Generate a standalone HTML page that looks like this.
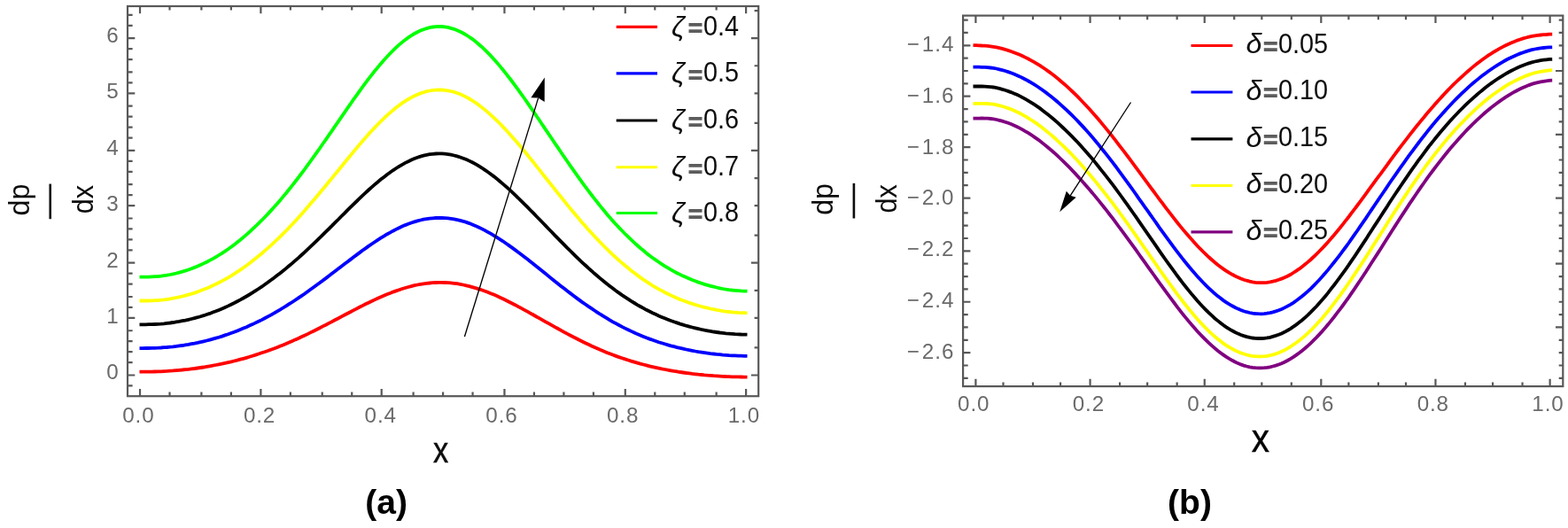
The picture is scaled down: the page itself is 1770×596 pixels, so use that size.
<!DOCTYPE html>
<html lang="en"><head><meta charset="utf-8"><title>Pressure gradient plots</title>
<style>
html,body{margin:0;padding:0;background:#fff;}
body{width:1770px;height:596px;overflow:hidden;}
svg{display:block;}
text{font-family:"Liberation Sans","DejaVu Sans",sans-serif;}
.sym{font-style:italic;}
.eq{fill:#5c5c5c;font-family:"DejaVu Sans",sans-serif;font-size:26px;font-weight:bold;}
.cap{font-size:39px;font-weight:bold;fill:#000;}
</style></head>
<body>
<svg width="1770" height="596" viewBox="0 0 1770 596">
<defs><filter id="soft" x="0" y="0" width="1770" height="596" filterUnits="userSpaceOnUse"><feGaussianBlur stdDeviation="0.6"/></filter></defs>
<rect width="1770" height="596" fill="#fff"/>
<g filter="url(#soft)">
<g class="frame" fill="none" stroke="#585858" stroke-width="2.2">
<rect x="144" y="7" width="712.2" height="440.2"/>
<path d="M158.02,447.2 v-8.3 M158.02,7 v8.3 M191.51,447.2 v-4.6 M191.51,7 v4.6 M227.39,447.2 v-4.6 M227.39,7 v4.6 M260.88,447.2 v-4.6 M260.88,7 v4.6 M294.37,447.2 v-8.3 M294.37,7 v8.3 M327.85,447.2 v-4.6 M327.85,7 v4.6 M363.73,447.2 v-4.6 M363.73,7 v4.6 M397.22,447.2 v-4.6 M397.22,7 v4.6 M430.71,447.2 v-8.3 M430.71,7 v8.3 M466.59,447.2 v-4.6 M466.59,7 v4.6 M500.08,447.2 v-4.6 M500.08,7 v4.6 M533.57,447.2 v-4.6 M533.57,7 v4.6 M569.45,447.2 v-8.3 M569.45,7 v8.3 M602.93,447.2 v-4.6 M602.93,7 v4.6 M636.42,447.2 v-4.6 M636.42,7 v4.6 M669.91,447.2 v-4.6 M669.91,7 v4.6 M705.79,447.2 v-8.3 M705.79,7 v8.3 M739.28,447.2 v-4.6 M739.28,7 v4.6 M772.77,447.2 v-4.6 M772.77,7 v4.6 M808.65,447.2 v-4.6 M808.65,7 v4.6 M842.13,447.2 v-8.3 M842.13,7 v8.3 M144,435.44 h5.6 M144,423.48 h8.3 M144,409.13 h5.6 M144,397.17 h5.6 M144,385.21 h5.6 M144,373.25 h5.6 M144,358.9 h8.3 M144,346.94 h5.6 M144,334.98 h5.6 M144,320.63 h5.6 M144,308.67 h5.6 M144,296.71 h8.3 M144,282.36 h5.6 M144,270.4 h5.6 M144,258.44 h5.6 M144,246.48 h5.6 M144,232.12 h8.3 M144,220.16 h5.6 M144,208.2 h5.6 M144,193.85 h5.6 M144,181.89 h5.6 M144,169.93 h8.3 M144,155.58 h5.6 M144,143.62 h5.6 M144,131.66 h5.6 M144,119.7 h5.6 M144,105.35 h8.3 M144,93.39 h5.6 M144,81.43 h5.6 M144,67.08 h5.6 M144,55.12 h5.6 M144,43.16 h8.3 M144,28.8 h5.6 M144,16.84 h5.6 M856.2,423.48 h-8.3 M856.2,392.39 h-4.6 M856.2,358.9 h-4.6 M856.2,327.8 h-4.6 M856.2,296.71 h-8.3 M856.2,265.61 h-4.6 M856.2,232.12 h-4.6 M856.2,201.03 h-4.6 M856.2,169.93 h-8.3 M856.2,138.84 h-4.6 M856.2,105.35 h-4.6 M856.2,74.25 h-4.6 M856.2,43.16 h-8.3 M856.2,12.06 h-4.6"/>
</g>
<g fill="none" stroke-width="3.8" stroke-linecap="butt">
<path stroke="#ff0000" d="M157.5,419.7 L160.9,419.7 L164.4,419.7 L167.8,419.6 L171.3,419.6 L174.7,419.5 L178.2,419.4 L181.6,419.3 L185.1,419.1 L188.5,418.9 L192.0,418.6 L195.4,418.4 L198.9,418.1 L202.3,417.8 L205.8,417.5 L209.2,417.1 L212.7,416.8 L216.1,416.4 L219.6,416.0 L223.0,415.5 L226.4,415.0 L229.9,414.5 L233.3,413.9 L236.8,413.3 L240.2,412.7 L243.7,412.0 L247.1,411.3 L250.6,410.6 L254.0,409.9 L257.5,409.1 L260.9,408.4 L264.4,407.5 L267.8,406.7 L271.3,405.7 L274.7,404.8 L278.2,403.8 L281.6,402.8 L285.0,401.7 L288.5,400.6 L291.9,399.5 L295.4,398.3 L298.8,397.2 L302.3,396.0 L305.7,394.7 L309.2,393.5 L312.6,392.2 L316.1,390.8 L319.5,389.4 L323.0,387.9 L326.4,386.5 L329.9,385.0 L333.3,383.4 L336.8,381.9 L340.2,380.3 L343.7,378.7 L347.1,377.1 L350.5,375.4 L354.0,373.7 L357.4,372.0 L360.9,370.2 L364.3,368.4 L367.8,366.7 L371.2,364.9 L374.7,363.1 L378.1,361.3 L381.6,359.5 L385.0,357.6 L388.5,355.8 L391.9,354.0 L395.4,352.2 L398.8,350.4 L402.3,348.6 L405.7,346.8 L409.1,345.1 L412.6,343.3 L416.0,341.7 L419.5,340.0 L422.9,338.4 L426.4,336.8 L429.8,335.3 L433.3,333.8 L436.7,332.3 L440.2,331.0 L443.6,329.6 L447.1,328.4 L450.5,327.2 L454.0,326.0 L457.4,325.0 L460.9,324.0 L464.3,323.1 L467.8,322.2 L471.2,321.5 L474.6,320.9 L478.1,320.3 L481.5,319.9 L485.0,319.5 L488.4,319.2 L491.9,319.0 L495.3,318.9 L498.8,318.9 L502.2,319.0 L505.7,319.1 L509.1,319.4 L512.6,319.8 L516.0,320.2 L519.5,320.8 L522.9,321.5 L526.4,322.3 L529.8,323.1 L533.2,324.1 L536.7,325.1 L540.1,326.1 L543.6,327.3 L547.0,328.5 L550.5,329.8 L553.9,331.2 L557.4,332.6 L560.8,334.1 L564.3,335.7 L567.7,337.3 L571.2,339.0 L574.6,340.7 L578.1,342.5 L581.5,344.2 L585.0,346.1 L588.4,347.9 L591.9,349.8 L595.3,351.7 L598.7,353.6 L602.2,355.5 L605.6,357.5 L609.1,359.4 L612.5,361.3 L616.0,363.3 L619.4,365.2 L622.9,367.2 L626.3,369.1 L629.8,371.0 L633.2,372.9 L636.7,374.8 L640.1,376.7 L643.6,378.5 L647.0,380.3 L650.5,382.0 L653.9,383.8 L657.3,385.5 L660.8,387.2 L664.2,388.8 L667.7,390.5 L671.1,392.0 L674.6,393.6 L678.0,395.1 L681.5,396.5 L684.9,397.9 L688.4,399.3 L691.8,400.6 L695.3,401.9 L698.7,403.1 L702.2,404.3 L705.6,405.4 L709.1,406.5 L712.5,407.6 L716.0,408.6 L719.4,409.6 L722.8,410.6 L726.3,411.5 L729.7,412.4 L733.2,413.3 L736.6,414.1 L740.1,414.9 L743.5,415.6 L747.0,416.4 L750.4,417.0 L753.9,417.7 L757.3,418.3 L760.8,418.9 L764.2,419.4 L767.7,420.0 L771.1,420.5 L774.6,421.0 L778.0,421.4 L781.4,421.9 L784.9,422.3 L788.3,422.7 L791.8,423.0 L795.2,423.4 L798.7,423.7 L802.1,423.9 L805.6,424.2 L809.0,424.4 L812.5,424.6 L815.9,424.8 L819.4,425.0 L822.8,425.1 L826.3,425.3 L829.7,425.4 L833.2,425.4 L836.6,425.5 L840.1,425.6 L843.5,425.6"/>
<path stroke="#0000ff" d="M157.5,393.1 L160.9,393.1 L164.4,393.0 L167.8,393.0 L171.3,392.9 L174.7,392.8 L178.2,392.7 L181.6,392.5 L185.1,392.2 L188.5,392.0 L192.0,391.6 L195.4,391.3 L198.9,390.9 L202.3,390.4 L205.8,390.0 L209.2,389.4 L212.7,388.9 L216.1,388.2 L219.6,387.6 L223.0,386.9 L226.4,386.1 L229.9,385.3 L233.3,384.5 L236.8,383.6 L240.2,382.7 L243.7,381.7 L247.1,380.7 L250.6,379.6 L254.0,378.4 L257.5,377.3 L260.9,376.0 L264.4,374.8 L267.8,373.4 L271.3,372.0 L274.7,370.6 L278.2,369.2 L281.6,367.6 L285.0,366.1 L288.5,364.4 L291.9,362.8 L295.4,361.1 L298.8,359.3 L302.3,357.4 L305.7,355.6 L309.2,353.6 L312.6,351.6 L316.1,349.6 L319.5,347.5 L323.0,345.4 L326.4,343.2 L329.9,341.0 L333.3,338.7 L336.8,336.4 L340.2,334.1 L343.7,331.7 L347.1,329.2 L350.5,326.8 L354.0,324.3 L357.4,321.8 L360.9,319.3 L364.3,316.7 L367.8,314.1 L371.2,311.5 L374.7,308.8 L378.1,306.2 L381.6,303.6 L385.0,300.9 L388.5,298.3 L391.9,295.7 L395.4,293.1 L398.8,290.5 L402.3,287.9 L405.7,285.4 L409.1,282.8 L412.6,280.4 L416.0,277.9 L419.5,275.5 L422.9,273.2 L426.4,270.9 L429.8,268.7 L433.3,266.6 L436.7,264.5 L440.2,262.6 L443.6,260.7 L447.1,258.9 L450.5,257.2 L454.0,255.6 L457.4,254.1 L460.9,252.8 L464.3,251.5 L467.8,250.4 L471.2,249.4 L474.6,248.5 L478.1,247.7 L481.5,247.1 L485.0,246.6 L488.4,246.3 L491.9,246.0 L495.3,245.9 L498.8,246.0 L502.2,246.1 L505.7,246.4 L509.1,246.8 L512.6,247.4 L516.0,248.1 L519.5,248.9 L522.9,249.8 L526.4,250.9 L529.8,252.1 L533.2,253.4 L536.7,254.9 L540.1,256.5 L543.6,258.1 L547.0,259.9 L550.5,261.8 L553.9,263.7 L557.4,265.8 L560.8,267.9 L564.3,270.1 L567.7,272.3 L571.2,274.7 L574.6,277.1 L578.1,279.6 L581.5,282.1 L585.0,284.7 L588.4,287.3 L591.9,290.0 L595.3,292.6 L598.7,295.3 L602.2,298.1 L605.6,300.8 L609.1,303.6 L612.5,306.3 L616.0,309.1 L619.4,311.9 L622.9,314.7 L626.3,317.4 L629.8,320.2 L633.2,322.9 L636.7,325.6 L640.1,328.3 L643.6,330.9 L647.0,333.5 L650.5,336.1 L653.9,338.6 L657.3,341.1 L660.8,343.5 L664.2,345.9 L667.7,348.2 L671.1,350.5 L674.6,352.8 L678.0,355.0 L681.5,357.1 L684.9,359.2 L688.4,361.3 L691.8,363.3 L695.3,365.2 L698.7,367.0 L702.2,368.9 L705.6,370.6 L709.1,372.3 L712.5,373.9 L716.0,375.5 L719.4,377.1 L722.8,378.5 L726.3,379.9 L729.7,381.3 L733.2,382.6 L736.6,383.8 L740.1,385.0 L743.5,386.2 L747.0,387.3 L750.4,388.3 L753.9,389.3 L757.3,390.3 L760.8,391.2 L764.2,392.1 L767.7,392.9 L771.1,393.7 L774.6,394.5 L778.0,395.2 L781.4,395.8 L784.9,396.5 L788.3,397.1 L791.8,397.6 L795.2,398.1 L798.7,398.6 L802.1,399.1 L805.6,399.5 L809.0,399.9 L812.5,400.2 L815.9,400.6 L819.4,400.8 L822.8,401.1 L826.3,401.3 L829.7,401.4 L833.2,401.6 L836.6,401.7 L840.1,401.8 L843.5,401.8"/>
<path stroke="#000000" d="M157.5,366.3 L160.9,366.3 L164.4,366.3 L167.8,366.2 L171.3,366.2 L174.7,366.0 L178.2,365.8 L181.6,365.6 L185.1,365.3 L188.5,364.9 L192.0,364.5 L195.4,364.0 L198.9,363.4 L202.3,362.9 L205.8,362.2 L209.2,361.6 L212.7,360.8 L216.1,360.0 L219.6,359.1 L223.0,358.2 L226.4,357.2 L229.9,356.2 L233.3,355.0 L236.8,353.9 L240.2,352.6 L243.7,351.3 L247.1,349.9 L250.6,348.4 L254.0,346.9 L257.5,345.4 L260.9,343.7 L264.4,342.0 L267.8,340.2 L271.3,338.4 L274.7,336.5 L278.2,334.5 L281.6,332.5 L285.0,330.4 L288.5,328.2 L291.9,326.0 L295.4,323.7 L298.8,321.3 L302.3,318.8 L305.7,316.3 L309.2,313.7 L312.6,311.1 L316.1,308.4 L319.5,305.7 L323.0,302.9 L326.4,300.0 L329.9,297.1 L333.3,294.1 L336.8,291.1 L340.2,288.0 L343.7,284.8 L347.1,281.6 L350.5,278.4 L354.0,275.1 L357.4,271.8 L360.9,268.5 L364.3,265.1 L367.8,261.7 L371.2,258.3 L374.7,254.9 L378.1,251.4 L381.6,248.0 L385.0,244.5 L388.5,241.1 L391.9,237.6 L395.4,234.2 L398.8,230.8 L402.3,227.5 L405.7,224.2 L409.1,220.9 L412.6,217.7 L416.0,214.5 L419.5,211.4 L422.9,208.4 L426.4,205.5 L429.8,202.6 L433.3,199.9 L436.7,197.2 L440.2,194.7 L443.6,192.3 L447.1,190.0 L450.5,187.9 L454.0,185.8 L457.4,183.9 L460.9,182.2 L464.3,180.5 L467.8,179.1 L471.2,177.8 L474.6,176.6 L478.1,175.7 L481.5,174.9 L485.0,174.2 L488.4,173.8 L491.9,173.5 L495.3,173.4 L498.8,173.4 L502.2,173.7 L505.7,174.1 L509.1,174.7 L512.6,175.5 L516.0,176.4 L519.5,177.5 L522.9,178.7 L526.4,180.1 L529.8,181.6 L533.2,183.3 L536.7,185.2 L540.1,187.2 L543.6,189.3 L547.0,191.6 L550.5,194.0 L553.9,196.5 L557.4,199.1 L560.8,201.8 L564.3,204.7 L567.7,207.6 L571.2,210.6 L574.6,213.7 L578.1,216.9 L581.5,220.2 L585.0,223.5 L588.4,226.9 L591.9,230.3 L595.3,233.7 L598.7,237.2 L602.2,240.7 L605.6,244.2 L609.1,247.8 L612.5,251.3 L616.0,254.9 L619.4,258.5 L622.9,262.0 L626.3,265.6 L629.8,269.1 L633.2,272.6 L636.7,276.1 L640.1,279.6 L643.6,283.0 L647.0,286.4 L650.5,289.8 L653.9,293.1 L657.3,296.3 L660.8,299.5 L664.2,302.7 L667.7,305.7 L671.1,308.8 L674.6,311.7 L678.0,314.6 L681.5,317.5 L684.9,320.3 L688.4,323.0 L691.8,325.6 L695.3,328.2 L698.7,330.6 L702.2,333.1 L705.6,335.4 L709.1,337.7 L712.5,339.9 L716.0,342.0 L719.4,344.1 L722.8,346.0 L726.3,347.9 L729.7,349.8 L733.2,351.5 L736.6,353.2 L740.1,354.8 L743.5,356.4 L747.0,357.9 L750.4,359.3 L753.9,360.7 L757.3,362.0 L760.8,363.2 L764.2,364.4 L767.7,365.6 L771.1,366.6 L774.6,367.7 L778.0,368.6 L781.4,369.5 L784.9,370.4 L788.3,371.2 L791.8,372.0 L795.2,372.7 L798.7,373.3 L802.1,373.9 L805.6,374.5 L809.0,375.0 L812.5,375.5 L815.9,375.9 L819.4,376.3 L822.8,376.6 L826.3,376.9 L829.7,377.2 L833.2,377.3 L836.6,377.5 L840.1,377.6 L843.5,377.7"/>
<path stroke="#ffff00" d="M157.5,339.5 L160.9,339.5 L164.4,339.5 L167.8,339.5 L171.3,339.4 L174.7,339.2 L178.2,339.0 L181.6,338.7 L185.1,338.3 L188.5,337.8 L192.0,337.3 L195.4,336.7 L198.9,336.0 L202.3,335.3 L205.8,334.5 L209.2,333.7 L212.7,332.7 L216.1,331.7 L219.6,330.6 L223.0,329.4 L226.4,328.1 L229.9,326.8 L233.3,325.4 L236.8,323.9 L240.2,322.3 L243.7,320.7 L247.1,319.0 L250.6,317.2 L254.0,315.3 L257.5,313.3 L260.9,311.3 L264.4,309.1 L267.8,306.9 L271.3,304.6 L274.7,302.2 L278.2,299.8 L281.6,297.2 L285.0,294.6 L288.5,291.8 L291.9,289.1 L295.4,286.2 L298.8,283.2 L302.3,280.2 L305.7,277.1 L309.2,273.9 L312.6,270.7 L316.1,267.4 L319.5,263.9 L323.0,260.5 L326.4,256.9 L329.9,253.3 L333.3,249.6 L336.8,245.8 L340.2,242.0 L343.7,238.1 L347.1,234.1 L350.5,230.1 L354.0,226.1 L357.4,222.0 L360.9,217.8 L364.3,213.7 L367.8,209.5 L371.2,205.3 L374.7,201.1 L378.1,196.9 L381.6,192.7 L385.0,188.5 L388.5,184.2 L391.9,180.0 L395.4,175.8 L398.8,171.6 L402.3,167.5 L405.7,163.4 L409.1,159.4 L412.6,155.5 L416.0,151.6 L419.5,147.8 L422.9,144.1 L426.4,140.5 L429.8,137.0 L433.3,133.7 L436.7,130.4 L440.2,127.3 L443.6,124.4 L447.1,121.6 L450.5,118.9 L454.0,116.4 L457.4,114.1 L460.9,112.0 L464.3,110.1 L467.8,108.3 L471.2,106.7 L474.6,105.4 L478.1,104.2 L481.5,103.2 L485.0,102.5 L488.4,101.9 L491.9,101.6 L495.3,101.4 L498.8,101.5 L502.2,101.8 L505.7,102.3 L509.1,103.0 L512.6,103.9 L516.0,105.0 L519.5,106.3 L522.9,107.9 L526.4,109.6 L529.8,111.5 L533.2,113.5 L536.7,115.8 L540.1,118.3 L543.6,120.9 L547.0,123.6 L550.5,126.6 L553.9,129.6 L557.4,132.8 L560.8,136.1 L564.3,139.5 L567.7,143.1 L571.2,146.7 L574.6,150.5 L578.1,154.4 L581.5,158.3 L585.0,162.3 L588.4,166.4 L591.9,170.5 L595.3,174.7 L598.7,179.0 L602.2,183.2 L605.6,187.6 L609.1,191.9 L612.5,196.3 L616.0,200.7 L619.4,205.0 L622.9,209.4 L626.3,213.7 L629.8,218.1 L633.2,222.3 L636.7,226.6 L640.1,230.9 L643.6,235.1 L647.0,239.2 L650.5,243.3 L653.9,247.4 L657.3,251.4 L660.8,255.3 L664.2,259.2 L667.7,263.0 L671.1,266.7 L674.6,270.4 L678.0,274.0 L681.5,277.5 L684.9,281.0 L688.4,284.3 L691.8,287.6 L695.3,290.8 L698.7,293.9 L702.2,296.9 L705.6,299.8 L709.1,302.6 L712.5,305.4 L716.0,308.1 L719.4,310.6 L722.8,313.1 L726.3,315.6 L729.7,317.9 L733.2,320.1 L736.6,322.3 L740.1,324.3 L743.5,326.3 L747.0,328.2 L750.4,330.0 L753.9,331.7 L757.3,333.4 L760.8,335.0 L764.2,336.5 L767.7,337.9 L771.1,339.3 L774.6,340.5 L778.0,341.8 L781.4,342.9 L784.9,344.0 L788.3,345.0 L791.8,346.0 L795.2,346.9 L798.7,347.7 L802.1,348.5 L805.6,349.2 L809.0,349.9 L812.5,350.5 L815.9,351.1 L819.4,351.6 L822.8,352.0 L826.3,352.4 L829.7,352.6 L833.2,352.9 L836.6,353.1 L840.1,353.2 L843.5,353.3"/>
<path stroke="#00ff00" d="M157.5,312.7 L160.9,312.7 L164.4,312.6 L167.8,312.6 L171.3,312.4 L174.7,312.2 L178.2,312.0 L181.6,311.6 L185.1,311.1 L188.5,310.6 L192.0,310.0 L195.4,309.3 L198.9,308.5 L202.3,307.6 L205.8,306.6 L209.2,305.6 L212.7,304.5 L216.1,303.2 L219.6,301.9 L223.0,300.5 L226.4,299.0 L229.9,297.4 L233.3,295.7 L236.8,293.9 L240.2,292.1 L243.7,290.1 L247.1,288.0 L250.6,285.8 L254.0,283.6 L257.5,281.2 L260.9,278.8 L264.4,276.2 L267.8,273.5 L271.3,270.7 L274.7,267.9 L278.2,264.9 L281.6,261.8 L285.0,258.7 L288.5,255.5 L291.9,252.1 L295.4,248.7 L298.8,245.2 L302.3,241.6 L305.7,237.9 L309.2,234.1 L312.6,230.2 L316.1,226.2 L319.5,222.1 L323.0,218.0 L326.4,213.7 L329.9,209.4 L333.3,205.0 L336.8,200.5 L340.2,196.0 L343.7,191.4 L347.1,186.7 L350.5,182.0 L354.0,177.2 L357.4,172.4 L360.9,167.5 L364.3,162.5 L367.8,157.6 L371.2,152.6 L374.7,147.6 L378.1,142.6 L381.6,137.6 L385.0,132.6 L388.5,127.6 L391.9,122.6 L395.4,117.7 L398.8,112.7 L402.3,107.9 L405.7,103.1 L409.1,98.3 L412.6,93.7 L416.0,89.1 L419.5,84.6 L422.9,80.3 L426.4,76.1 L429.8,72.0 L433.3,68.0 L436.7,64.2 L440.2,60.5 L443.6,57.0 L447.1,53.7 L450.5,50.6 L454.0,47.6 L457.4,44.9 L460.9,42.4 L464.3,40.1 L467.8,38.0 L471.2,36.2 L474.6,34.6 L478.1,33.2 L481.5,32.1 L485.0,31.2 L488.4,30.5 L491.9,30.1 L495.3,29.9 L498.8,30.0 L502.2,30.4 L505.7,30.9 L509.1,31.8 L512.6,32.8 L516.0,34.2 L519.5,35.7 L522.9,37.5 L526.4,39.5 L529.8,41.7 L533.2,44.1 L536.7,46.8 L540.1,49.7 L543.6,52.7 L547.0,55.9 L550.5,59.4 L553.9,62.9 L557.4,66.7 L560.8,70.6 L564.3,74.6 L567.7,78.8 L571.2,83.1 L574.6,87.5 L578.1,92.0 L581.5,96.6 L585.0,101.3 L588.4,106.1 L591.9,111.0 L595.3,115.9 L598.7,120.9 L602.2,125.9 L605.6,131.0 L609.1,136.0 L612.5,141.2 L616.0,146.3 L619.4,151.4 L622.9,156.5 L626.3,161.6 L629.8,166.7 L633.2,171.8 L636.7,176.8 L640.1,181.8 L643.6,186.8 L647.0,191.7 L650.5,196.6 L653.9,201.4 L657.3,206.2 L660.8,210.8 L664.2,215.4 L667.7,220.0 L671.1,224.4 L674.6,228.8 L678.0,233.1 L681.5,237.3 L684.9,241.4 L688.4,245.4 L691.8,249.4 L695.3,253.2 L698.7,256.9 L702.2,260.5 L705.6,264.0 L709.1,267.4 L712.5,270.7 L716.0,273.9 L719.4,277.0 L722.8,280.0 L726.3,282.8 L729.7,285.7 L733.2,288.4 L736.6,291.0 L740.1,293.4 L743.5,295.8 L747.0,298.1 L750.4,300.3 L753.9,302.4 L757.3,304.4 L760.8,306.3 L764.2,308.2 L767.7,309.9 L771.1,311.6 L774.6,313.1 L778.0,314.6 L781.4,316.0 L784.9,317.3 L788.3,318.6 L791.8,319.8 L795.2,320.9 L798.7,321.9 L802.1,322.8 L805.6,323.7 L809.0,324.5 L812.5,325.3 L815.9,326.0 L819.4,326.6 L822.8,327.1 L826.3,327.5 L829.7,327.8 L833.2,328.1 L836.6,328.4 L840.1,328.6 L843.5,328.7"/>
</g>
<g class="tl" fill="#6a6a6a" font-size="24.2">
<text x="133.6" y="428.2" text-anchor="end">0</text>
<text x="133.6" y="364.85" text-anchor="end">1</text>
<text x="133.6" y="301.5" text-anchor="end">2</text>
<text x="133.6" y="238.15" text-anchor="end">3</text>
<text x="133.6" y="174.8" text-anchor="end">4</text>
<text x="133.6" y="111.45" text-anchor="end">5</text>
<text x="133.6" y="48.1" text-anchor="end">6</text>
<text x="156.35" y="477.2" text-anchor="middle" letter-spacing="0.9">0.0</text>
<text x="293.05" y="477.2" text-anchor="middle" letter-spacing="0.9">0.2</text>
<text x="429.75" y="477.2" text-anchor="middle" letter-spacing="0.9">0.4</text>
<text x="566.45" y="477.2" text-anchor="middle" letter-spacing="0.9">0.6</text>
<text x="703.15" y="477.2" text-anchor="middle" letter-spacing="0.9">0.8</text>
<text x="839.85" y="477.2" text-anchor="middle" letter-spacing="0.9">1.0</text>
</g>
<g class="frame" fill="none" stroke="#585858" stroke-width="2.2">
<rect x="1087.1" y="17.6" width="677.2" height="418.5"/>
<path d="M1101.4,436.1 v-8.3 M1101.4,17.6 v8.3 M1132.5,436.1 v-4.6 M1132.5,17.6 v4.6 M1165.98,436.1 v-4.6 M1165.98,17.6 v4.6 M1197.08,436.1 v-4.6 M1197.08,17.6 v4.6 M1230.57,436.1 v-8.3 M1230.57,17.6 v8.3 M1264.06,436.1 v-4.6 M1264.06,17.6 v4.6 M1295.15,436.1 v-4.6 M1295.15,17.6 v4.6 M1328.64,436.1 v-4.6 M1328.64,17.6 v4.6 M1359.74,436.1 v-8.3 M1359.74,17.6 v8.3 M1393.22,436.1 v-4.6 M1393.22,17.6 v4.6 M1424.32,436.1 v-4.6 M1424.32,17.6 v4.6 M1457.81,436.1 v-4.6 M1457.81,17.6 v4.6 M1491.3,436.1 v-8.3 M1491.3,17.6 v8.3 M1522.39,436.1 v-4.6 M1522.39,17.6 v4.6 M1555.88,436.1 v-4.6 M1555.88,17.6 v4.6 M1586.98,436.1 v-4.6 M1586.98,17.6 v4.6 M1620.46,436.1 v-8.3 M1620.46,17.6 v8.3 M1653.95,436.1 v-4.6 M1653.95,17.6 v4.6 M1685.05,436.1 v-4.6 M1685.05,17.6 v4.6 M1718.54,436.1 v-4.6 M1718.54,17.6 v4.6 M1749.63,436.1 v-8.3 M1749.63,17.6 v8.3 M1087.1,22.61 h5.6 M1087.1,36.96 h5.6 M1087.1,51.31 h8.3 M1087.1,65.66 h5.6 M1087.1,80.02 h5.6 M1087.1,94.37 h5.6 M1087.1,108.72 h8.3 M1087.1,123.07 h5.6 M1087.1,137.42 h5.6 M1087.1,151.78 h5.6 M1087.1,166.13 h8.3 M1087.1,180.48 h5.6 M1087.1,194.83 h5.6 M1087.1,209.18 h5.6 M1087.1,223.54 h8.3 M1087.1,240.28 h5.6 M1087.1,254.63 h5.6 M1087.1,268.98 h5.6 M1087.1,283.34 h8.3 M1087.1,297.69 h5.6 M1087.1,312.04 h5.6 M1087.1,326.39 h5.6 M1087.1,340.74 h8.3 M1087.1,355.1 h5.6 M1087.1,369.45 h5.6 M1087.1,383.8 h5.6 M1087.1,398.15 h8.3 M1087.1,412.5 h5.6 M1087.1,426.86 h5.6 M1764.3,22.61 h-4.6 M1764.3,36.96 h-4.6 M1764.3,51.31 h-4.6 M1764.3,65.66 h-4.6 M1764.3,80.02 h-8.3 M1764.3,94.37 h-4.6 M1764.3,108.72 h-4.6 M1764.3,123.07 h-4.6 M1764.3,137.42 h-4.6 M1764.3,151.78 h-8.3 M1764.3,166.13 h-4.6 M1764.3,180.48 h-4.6 M1764.3,194.83 h-4.6 M1764.3,209.18 h-4.6 M1764.3,223.54 h-8.3 M1764.3,240.28 h-4.6 M1764.3,254.63 h-4.6 M1764.3,268.98 h-4.6 M1764.3,283.34 h-4.6 M1764.3,297.69 h-8.3 M1764.3,312.04 h-4.6 M1764.3,326.39 h-4.6 M1764.3,340.74 h-4.6 M1764.3,355.1 h-4.6 M1764.3,369.45 h-8.3 M1764.3,383.8 h-4.6 M1764.3,398.15 h-4.6 M1764.3,412.5 h-4.6 M1764.3,426.86 h-4.6"/>
</g>
<g fill="none" stroke-width="3.8" stroke-linecap="butt">
<path stroke="#ff0000" d="M1098.5,51.2 L1101.8,51.2 L1105.1,51.3 L1108.4,51.5 L1111.6,51.6 L1114.9,51.9 L1118.2,52.3 L1121.5,52.8 L1124.8,53.4 L1128.1,54.1 L1131.3,54.9 L1134.6,55.8 L1137.9,56.9 L1141.2,58.0 L1144.5,59.2 L1147.8,60.5 L1151.1,61.8 L1154.3,63.3 L1157.6,64.9 L1160.9,66.5 L1164.2,68.3 L1167.5,70.1 L1170.8,72.1 L1174.1,74.1 L1177.3,76.3 L1180.6,78.5 L1183.9,80.9 L1187.2,83.3 L1190.5,85.8 L1193.8,88.4 L1197.0,91.2 L1200.3,94.0 L1203.6,96.9 L1206.9,99.9 L1210.2,103.0 L1213.5,106.2 L1216.8,109.4 L1220.0,112.7 L1223.3,116.2 L1226.6,119.7 L1229.9,123.2 L1233.2,126.9 L1236.5,130.7 L1239.8,134.5 L1243.0,138.4 L1246.3,142.4 L1249.6,146.4 L1252.9,150.5 L1256.2,154.6 L1259.5,158.8 L1262.7,163.1 L1266.0,167.4 L1269.3,171.7 L1272.6,176.0 L1275.9,180.4 L1279.2,184.8 L1282.5,189.3 L1285.7,193.7 L1289.0,198.2 L1292.3,202.7 L1295.6,207.1 L1298.9,211.6 L1302.2,216.0 L1305.5,220.5 L1308.7,224.9 L1312.0,229.2 L1315.3,233.6 L1318.6,237.9 L1321.9,242.2 L1325.2,246.4 L1328.4,250.5 L1331.7,254.6 L1335.0,258.6 L1338.3,262.5 L1341.6,266.3 L1344.9,270.0 L1348.2,273.7 L1351.4,277.2 L1354.7,280.7 L1358.0,284.0 L1361.3,287.2 L1364.6,290.3 L1367.9,293.2 L1371.1,296.0 L1374.4,298.7 L1377.7,301.2 L1381.0,303.6 L1384.3,305.8 L1387.6,307.9 L1390.9,309.8 L1394.1,311.5 L1397.4,313.1 L1400.7,314.5 L1404.0,315.7 L1407.3,316.7 L1410.6,317.6 L1413.9,318.3 L1417.1,318.8 L1420.4,319.1 L1423.7,319.2 L1427.0,319.1 L1430.3,318.9 L1433.6,318.4 L1436.8,317.7 L1440.1,316.9 L1443.4,315.8 L1446.7,314.6 L1450.0,313.3 L1453.3,311.7 L1456.6,310.0 L1459.8,308.0 L1463.1,305.9 L1466.4,303.7 L1469.7,301.2 L1473.0,298.6 L1476.3,295.9 L1479.6,293.0 L1482.8,290.0 L1486.1,286.8 L1489.4,283.5 L1492.7,280.1 L1496.0,276.6 L1499.3,273.0 L1502.5,269.3 L1505.8,265.4 L1509.1,261.5 L1512.4,257.5 L1515.7,253.4 L1519.0,249.2 L1522.3,245.0 L1525.5,240.7 L1528.8,236.4 L1532.1,232.0 L1535.4,227.6 L1538.7,223.1 L1542.0,218.7 L1545.2,214.2 L1548.5,209.7 L1551.8,205.2 L1555.1,200.7 L1558.4,196.3 L1561.7,191.8 L1565.0,187.3 L1568.2,182.8 L1571.5,178.4 L1574.8,173.9 L1578.1,169.5 L1581.4,165.2 L1584.7,160.9 L1588.0,156.6 L1591.2,152.3 L1594.5,148.2 L1597.8,144.0 L1601.1,140.0 L1604.4,135.9 L1607.7,132.0 L1610.9,128.0 L1614.2,124.2 L1617.5,120.4 L1620.8,116.6 L1624.1,113.0 L1627.4,109.4 L1630.7,105.8 L1633.9,102.4 L1637.2,99.0 L1640.5,95.7 L1643.8,92.5 L1647.1,89.4 L1650.4,86.3 L1653.7,83.3 L1656.9,80.5 L1660.2,77.6 L1663.5,74.9 L1666.8,72.3 L1670.1,69.8 L1673.4,67.3 L1676.6,65.0 L1679.9,62.7 L1683.2,60.6 L1686.5,58.5 L1689.8,56.6 L1693.1,54.7 L1696.4,52.9 L1699.6,51.3 L1702.9,49.7 L1706.2,48.2 L1709.5,46.9 L1712.8,45.6 L1716.1,44.5 L1719.4,43.4 L1722.6,42.5 L1725.9,41.7 L1729.2,40.9 L1732.5,40.3 L1735.8,39.9 L1739.1,39.5 L1742.3,39.2 L1745.6,39.0 L1748.9,38.7 L1752.2,38.7"/>
<path stroke="#0000ff" d="M1098.5,75.7 L1101.8,75.7 L1105.1,75.7 L1108.4,75.8 L1111.6,75.9 L1114.9,76.1 L1118.2,76.5 L1121.5,76.9 L1124.8,77.5 L1128.1,78.3 L1131.3,79.1 L1134.6,80.0 L1137.9,81.1 L1141.2,82.3 L1144.5,83.5 L1147.8,84.9 L1151.1,86.4 L1154.3,88.0 L1157.6,89.7 L1160.9,91.5 L1164.2,93.4 L1167.5,95.4 L1170.8,97.5 L1174.1,99.7 L1177.3,102.0 L1180.6,104.4 L1183.9,106.9 L1187.2,109.5 L1190.5,112.2 L1193.8,115.0 L1197.0,117.9 L1200.3,120.8 L1203.6,123.9 L1206.9,127.0 L1210.2,130.2 L1213.5,133.5 L1216.8,136.9 L1220.0,140.4 L1223.3,143.9 L1226.6,147.6 L1229.9,151.3 L1233.2,155.1 L1236.5,159.0 L1239.8,162.9 L1243.0,167.0 L1246.3,171.0 L1249.6,175.2 L1252.9,179.4 L1256.2,183.7 L1259.5,188.0 L1262.7,192.4 L1266.0,196.8 L1269.3,201.3 L1272.6,205.8 L1275.9,210.4 L1279.2,215.0 L1282.5,219.6 L1285.7,224.3 L1289.0,228.9 L1292.3,233.6 L1295.6,238.2 L1298.9,242.9 L1302.2,247.5 L1305.5,252.1 L1308.7,256.8 L1312.0,261.3 L1315.3,265.9 L1318.6,270.4 L1321.9,274.9 L1325.2,279.3 L1328.4,283.6 L1331.7,287.9 L1335.0,292.1 L1338.3,296.2 L1341.6,300.2 L1344.9,304.2 L1348.2,308.0 L1351.4,311.7 L1354.7,315.3 L1358.0,318.8 L1361.3,322.1 L1364.6,325.3 L1367.9,328.4 L1371.1,331.3 L1374.4,334.1 L1377.7,336.6 L1381.0,339.1 L1384.3,341.3 L1387.6,343.4 L1390.9,345.3 L1394.1,347.0 L1397.4,348.6 L1400.7,350.0 L1404.0,351.2 L1407.3,352.2 L1410.6,353.0 L1413.9,353.6 L1417.1,354.0 L1420.4,354.2 L1423.7,354.3 L1427.0,354.1 L1430.3,353.7 L1433.6,353.1 L1436.8,352.4 L1440.1,351.4 L1443.4,350.3 L1446.7,348.9 L1450.0,347.4 L1453.3,345.7 L1456.6,343.8 L1459.8,341.8 L1463.1,339.5 L1466.4,337.1 L1469.7,334.5 L1473.0,331.8 L1476.3,328.9 L1479.6,325.8 L1482.8,322.6 L1486.1,319.2 L1489.4,315.7 L1492.7,312.1 L1496.0,308.3 L1499.3,304.4 L1502.5,300.4 L1505.8,296.3 L1509.1,292.1 L1512.4,287.8 L1515.7,283.4 L1519.0,279.0 L1522.3,274.5 L1525.5,269.9 L1528.8,265.2 L1532.1,260.5 L1535.4,255.7 L1538.7,250.9 L1542.0,246.1 L1545.2,241.2 L1548.5,236.4 L1551.8,231.5 L1555.1,226.7 L1558.4,221.8 L1561.7,217.0 L1565.0,212.1 L1568.2,207.3 L1571.5,202.5 L1574.8,197.8 L1578.1,193.1 L1581.4,188.4 L1584.7,183.8 L1588.0,179.2 L1591.2,174.7 L1594.5,170.3 L1597.8,165.8 L1601.1,161.5 L1604.4,157.2 L1607.7,153.0 L1610.9,148.8 L1614.2,144.7 L1617.5,140.7 L1620.8,136.8 L1624.1,133.0 L1627.4,129.2 L1630.7,125.6 L1633.9,122.0 L1637.2,118.5 L1640.5,115.0 L1643.8,111.7 L1647.1,108.4 L1650.4,105.2 L1653.7,102.1 L1656.9,99.1 L1660.2,96.1 L1663.5,93.3 L1666.8,90.6 L1670.1,87.9 L1673.4,85.3 L1676.6,82.9 L1679.9,80.5 L1683.2,78.2 L1686.5,76.0 L1689.8,73.8 L1693.1,71.8 L1696.4,69.9 L1699.6,68.0 L1702.9,66.3 L1706.2,64.7 L1709.5,63.2 L1712.8,61.7 L1716.1,60.4 L1719.4,59.2 L1722.6,58.1 L1725.9,57.1 L1729.2,56.2 L1732.5,55.5 L1735.8,54.9 L1739.1,54.4 L1742.3,54.0 L1745.6,53.7 L1748.9,53.4 L1752.2,53.3"/>
<path stroke="#000000" d="M1098.5,97.5 L1101.8,97.5 L1105.1,97.5 L1108.4,97.5 L1111.6,97.6 L1114.9,97.8 L1118.2,98.1 L1121.5,98.5 L1124.8,99.1 L1128.1,99.9 L1131.3,100.8 L1134.6,101.8 L1137.9,102.9 L1141.2,104.1 L1144.5,105.4 L1147.8,106.8 L1151.1,108.4 L1154.3,110.1 L1157.6,111.9 L1160.9,113.8 L1164.2,115.8 L1167.5,117.9 L1170.8,120.1 L1174.1,122.4 L1177.3,124.9 L1180.6,127.4 L1183.9,130.0 L1187.2,132.7 L1190.5,135.5 L1193.8,138.4 L1197.0,141.4 L1200.3,144.5 L1203.6,147.6 L1206.9,150.9 L1210.2,154.2 L1213.5,157.6 L1216.8,161.0 L1220.0,164.6 L1223.3,168.2 L1226.6,172.0 L1229.9,175.8 L1233.2,179.6 L1236.5,183.6 L1239.8,187.7 L1243.0,191.8 L1246.3,195.9 L1249.6,200.1 L1252.9,204.4 L1256.2,208.7 L1259.5,213.1 L1262.7,217.5 L1266.0,222.0 L1269.3,226.6 L1272.6,231.2 L1275.9,235.8 L1279.2,240.5 L1282.5,245.2 L1285.7,249.9 L1289.0,254.6 L1292.3,259.4 L1295.6,264.1 L1298.9,268.9 L1302.2,273.6 L1305.5,278.4 L1308.7,283.1 L1312.0,287.8 L1315.3,292.5 L1318.6,297.1 L1321.9,301.7 L1325.2,306.2 L1328.4,310.6 L1331.7,315.0 L1335.0,319.3 L1338.3,323.5 L1341.6,327.6 L1344.9,331.6 L1348.2,335.5 L1351.4,339.3 L1354.7,343.0 L1358.0,346.5 L1361.3,349.9 L1364.6,353.2 L1367.9,356.2 L1371.1,359.2 L1374.4,361.9 L1377.7,364.5 L1381.0,367.0 L1384.3,369.3 L1387.6,371.4 L1390.9,373.3 L1394.1,375.0 L1397.4,376.6 L1400.7,378.0 L1404.0,379.1 L1407.3,380.1 L1410.6,380.9 L1413.9,381.5 L1417.1,381.8 L1420.4,382.0 L1423.7,382.0 L1427.0,381.8 L1430.3,381.4 L1433.6,380.8 L1436.8,379.9 L1440.1,378.9 L1443.4,377.8 L1446.7,376.4 L1450.0,374.8 L1453.3,373.0 L1456.6,371.1 L1459.8,368.9 L1463.1,366.6 L1466.4,364.1 L1469.7,361.5 L1473.0,358.6 L1476.3,355.6 L1479.6,352.4 L1482.8,349.1 L1486.1,345.7 L1489.4,342.0 L1492.7,338.3 L1496.0,334.4 L1499.3,330.4 L1502.5,326.2 L1505.8,322.0 L1509.1,317.7 L1512.4,313.2 L1515.7,308.7 L1519.0,304.1 L1522.3,299.4 L1525.5,294.6 L1528.8,289.8 L1532.1,284.9 L1535.4,279.9 L1538.7,274.9 L1542.0,269.9 L1545.2,264.8 L1548.5,259.7 L1551.8,254.6 L1555.1,249.6 L1558.4,244.5 L1561.7,239.4 L1565.0,234.4 L1568.2,229.3 L1571.5,224.3 L1574.8,219.3 L1578.1,214.4 L1581.4,209.5 L1584.7,204.6 L1588.0,199.8 L1591.2,195.1 L1594.5,190.4 L1597.8,185.8 L1601.1,181.2 L1604.4,176.8 L1607.7,172.3 L1610.9,168.0 L1614.2,163.7 L1617.5,159.6 L1620.8,155.5 L1624.1,151.5 L1627.4,147.6 L1630.7,143.7 L1633.9,140.0 L1637.2,136.3 L1640.5,132.7 L1643.8,129.2 L1647.1,125.8 L1650.4,122.5 L1653.7,119.2 L1656.9,116.1 L1660.2,113.1 L1663.5,110.1 L1666.8,107.2 L1670.1,104.4 L1673.4,101.7 L1676.6,99.1 L1679.9,96.6 L1683.2,94.1 L1686.5,91.8 L1689.8,89.5 L1693.1,87.4 L1696.4,85.3 L1699.6,83.4 L1702.9,81.5 L1706.2,79.8 L1709.5,78.1 L1712.8,76.5 L1716.1,75.1 L1719.4,73.7 L1722.6,72.5 L1725.9,71.4 L1729.2,70.4 L1732.5,69.5 L1735.8,68.8 L1739.1,68.2 L1742.3,67.7 L1745.6,67.3 L1748.9,66.9 L1752.2,66.8"/>
<path stroke="#ffff00" d="M1098.5,116.9 L1101.8,116.9 L1105.1,116.8 L1108.4,116.8 L1111.6,116.8 L1114.9,117.0 L1118.2,117.3 L1121.5,117.7 L1124.8,118.3 L1128.1,119.1 L1131.3,120.0 L1134.6,121.0 L1137.9,122.1 L1141.2,123.3 L1144.5,124.7 L1147.8,126.2 L1151.1,127.8 L1154.3,129.6 L1157.6,131.4 L1160.9,133.4 L1164.2,135.5 L1167.5,137.7 L1170.8,139.9 L1174.1,142.3 L1177.3,144.8 L1180.6,147.4 L1183.9,150.1 L1187.2,152.9 L1190.5,155.8 L1193.8,158.8 L1197.0,161.8 L1200.3,164.9 L1203.6,168.1 L1206.9,171.4 L1210.2,174.8 L1213.5,178.2 L1216.8,181.8 L1220.0,185.4 L1223.3,189.1 L1226.6,192.9 L1229.9,196.7 L1233.2,200.7 L1236.5,204.6 L1239.8,208.7 L1243.0,212.8 L1246.3,216.9 L1249.6,221.1 L1252.9,225.4 L1256.2,229.7 L1259.5,234.1 L1262.7,238.5 L1266.0,243.0 L1269.3,247.6 L1272.6,252.2 L1275.9,256.8 L1279.2,261.5 L1282.5,266.2 L1285.7,270.9 L1289.0,275.6 L1292.3,280.3 L1295.6,285.0 L1298.9,289.8 L1302.2,294.5 L1305.5,299.2 L1308.7,304.0 L1312.0,308.6 L1315.3,313.3 L1318.6,317.9 L1321.9,322.4 L1325.2,326.9 L1328.4,331.3 L1331.7,335.7 L1335.0,340.0 L1338.3,344.2 L1341.6,348.3 L1344.9,352.3 L1348.2,356.2 L1351.4,360.0 L1354.7,363.6 L1358.0,367.1 L1361.3,370.5 L1364.6,373.8 L1367.9,376.8 L1371.1,379.8 L1374.4,382.5 L1377.7,385.1 L1381.0,387.6 L1384.3,389.8 L1387.6,391.9 L1390.9,393.8 L1394.1,395.5 L1397.4,397.1 L1400.7,398.4 L1404.0,399.5 L1407.3,400.5 L1410.6,401.3 L1413.9,401.8 L1417.1,402.2 L1420.4,402.4 L1423.7,402.4 L1427.0,402.2 L1430.3,401.8 L1433.6,401.2 L1436.8,400.4 L1440.1,399.4 L1443.4,398.2 L1446.7,396.8 L1450.0,395.2 L1453.3,393.4 L1456.6,391.5 L1459.8,389.3 L1463.1,387.0 L1466.4,384.6 L1469.7,381.9 L1473.0,379.1 L1476.3,376.1 L1479.6,373.0 L1482.8,369.7 L1486.1,366.2 L1489.4,362.6 L1492.7,358.9 L1496.0,355.0 L1499.3,351.0 L1502.5,346.9 L1505.8,342.6 L1509.1,338.2 L1512.4,333.8 L1515.7,329.2 L1519.0,324.5 L1522.3,319.8 L1525.5,315.0 L1528.8,310.1 L1532.1,305.1 L1535.4,300.1 L1538.7,295.1 L1542.0,290.0 L1545.2,284.9 L1548.5,279.7 L1551.8,274.5 L1555.1,269.4 L1558.4,264.2 L1561.7,259.0 L1565.0,253.8 L1568.2,248.6 L1571.5,243.5 L1574.8,238.4 L1578.1,233.4 L1581.4,228.3 L1584.7,223.3 L1588.0,218.4 L1591.2,213.5 L1594.5,208.6 L1597.8,203.9 L1601.1,199.2 L1604.4,194.5 L1607.7,190.0 L1610.9,185.5 L1614.2,181.2 L1617.5,176.8 L1620.8,172.6 L1624.1,168.5 L1627.4,164.4 L1630.7,160.4 L1633.9,156.5 L1637.2,152.7 L1640.5,149.0 L1643.8,145.3 L1647.1,141.8 L1650.4,138.4 L1653.7,135.0 L1656.9,131.7 L1660.2,128.5 L1663.5,125.3 L1666.8,122.3 L1670.1,119.4 L1673.4,116.5 L1676.6,113.8 L1679.9,111.1 L1683.2,108.6 L1686.5,106.1 L1689.8,103.7 L1693.1,101.5 L1696.4,99.3 L1699.6,97.2 L1702.9,95.2 L1706.2,93.4 L1709.5,91.6 L1712.8,90.0 L1716.1,88.4 L1719.4,87.0 L1722.6,85.6 L1725.9,84.4 L1729.2,83.3 L1732.5,82.3 L1735.8,81.5 L1739.1,80.9 L1742.3,80.3 L1745.6,79.8 L1748.9,79.3 L1752.2,79.2"/>
<path stroke="#800080" d="M1098.5,133.7 L1101.8,133.7 L1105.1,133.6 L1108.4,133.5 L1111.6,133.6 L1114.9,133.7 L1118.2,134.0 L1121.5,134.4 L1124.8,135.0 L1128.1,135.8 L1131.3,136.6 L1134.6,137.7 L1137.9,138.8 L1141.2,140.1 L1144.5,141.5 L1147.8,143.0 L1151.1,144.6 L1154.3,146.4 L1157.6,148.3 L1160.9,150.2 L1164.2,152.3 L1167.5,154.6 L1170.8,156.9 L1174.1,159.3 L1177.3,161.9 L1180.6,164.5 L1183.9,167.2 L1187.2,170.0 L1190.5,172.9 L1193.8,175.9 L1197.0,179.0 L1200.3,182.1 L1203.6,185.4 L1206.9,188.7 L1210.2,192.1 L1213.5,195.6 L1216.8,199.2 L1220.0,202.8 L1223.3,206.5 L1226.6,210.2 L1229.9,214.1 L1233.2,217.9 L1236.5,221.9 L1239.8,225.9 L1243.0,229.9 L1246.3,234.0 L1249.6,238.2 L1252.9,242.5 L1256.2,246.7 L1259.5,251.1 L1262.7,255.5 L1266.0,259.9 L1269.3,264.3 L1272.6,268.8 L1275.9,273.3 L1279.2,277.8 L1282.5,282.4 L1285.7,287.0 L1289.0,291.6 L1292.3,296.2 L1295.6,300.8 L1298.9,305.4 L1302.2,310.0 L1305.5,314.6 L1308.7,319.2 L1312.0,323.7 L1315.3,328.2 L1318.6,332.7 L1321.9,337.1 L1325.2,341.5 L1328.4,345.8 L1331.7,350.1 L1335.0,354.3 L1338.3,358.4 L1341.6,362.4 L1344.9,366.3 L1348.2,370.0 L1351.4,373.7 L1354.7,377.2 L1358.0,380.6 L1361.3,383.9 L1364.6,387.1 L1367.9,390.1 L1371.1,392.9 L1374.4,395.7 L1377.7,398.2 L1381.0,400.6 L1384.3,402.9 L1387.6,404.9 L1390.9,406.8 L1394.1,408.5 L1397.4,410.1 L1400.7,411.4 L1404.0,412.6 L1407.3,413.5 L1410.6,414.3 L1413.9,414.8 L1417.1,415.2 L1420.4,415.4 L1423.7,415.4 L1427.0,415.2 L1430.3,414.8 L1433.6,414.3 L1436.8,413.5 L1440.1,412.6 L1443.4,411.5 L1446.7,410.2 L1450.0,408.7 L1453.3,407.0 L1456.6,405.1 L1459.8,403.1 L1463.1,400.9 L1466.4,398.5 L1469.7,396.0 L1473.0,393.3 L1476.3,390.4 L1479.6,387.4 L1482.8,384.2 L1486.1,380.9 L1489.4,377.4 L1492.7,373.8 L1496.0,370.0 L1499.3,366.1 L1502.5,362.1 L1505.8,358.0 L1509.1,353.7 L1512.4,349.4 L1515.7,345.0 L1519.0,340.4 L1522.3,335.8 L1525.5,331.1 L1528.8,326.3 L1532.1,321.4 L1535.4,316.5 L1538.7,311.5 L1542.0,306.5 L1545.2,301.4 L1548.5,296.3 L1551.8,291.2 L1555.1,286.1 L1558.4,280.9 L1561.7,275.7 L1565.0,270.5 L1568.2,265.4 L1571.5,260.2 L1574.8,255.1 L1578.1,250.0 L1581.4,244.9 L1584.7,239.9 L1588.0,234.9 L1591.2,229.9 L1594.5,225.1 L1597.8,220.2 L1601.1,215.4 L1604.4,210.7 L1607.7,206.0 L1610.9,201.4 L1614.2,196.9 L1617.5,192.5 L1620.8,188.1 L1624.1,183.8 L1627.4,179.6 L1630.7,175.5 L1633.9,171.5 L1637.2,167.5 L1640.5,163.7 L1643.8,159.9 L1647.1,156.2 L1650.4,152.6 L1653.7,149.0 L1656.9,145.6 L1660.2,142.3 L1663.5,139.0 L1666.8,135.9 L1670.1,132.8 L1673.4,129.9 L1676.6,127.0 L1679.9,124.2 L1683.2,121.5 L1686.5,119.0 L1689.8,116.5 L1693.1,114.1 L1696.4,111.8 L1699.6,109.7 L1702.9,107.6 L1706.2,105.6 L1709.5,103.7 L1712.8,102.0 L1716.1,100.3 L1719.4,98.8 L1722.6,97.4 L1725.9,96.1 L1729.2,94.9 L1732.5,93.9 L1735.8,93.1 L1739.1,92.4 L1742.3,91.8 L1745.6,91.3 L1748.9,90.8 L1752.2,90.7"/>
</g>
<g class="tl" fill="#6a6a6a" font-size="24.2">
<text x="1077.6" y="58.01" text-anchor="end" letter-spacing="1.1"><tspan>−</tspan><tspan dx="1.6">1.4</tspan></text>
<text x="1077.6" y="115.82" text-anchor="end" letter-spacing="1.1"><tspan>−</tspan><tspan dx="1.6">1.6</tspan></text>
<text x="1077.6" y="173.62" text-anchor="end" letter-spacing="1.1"><tspan>−</tspan><tspan dx="1.6">1.8</tspan></text>
<text x="1077.6" y="231.43" text-anchor="end" letter-spacing="1.1"><tspan>−</tspan><tspan dx="1.6">2.0</tspan></text>
<text x="1077.6" y="289.23" text-anchor="end" letter-spacing="1.1"><tspan>−</tspan><tspan dx="1.6">2.2</tspan></text>
<text x="1077.6" y="347.04" text-anchor="end" letter-spacing="1.1"><tspan>−</tspan><tspan dx="1.6">2.4</tspan></text>
<text x="1077.6" y="404.85" text-anchor="end" letter-spacing="1.1"><tspan>−</tspan><tspan dx="1.6">2.6</tspan></text>
<text x="1099.25" y="463.6" text-anchor="middle" letter-spacing="0.9">0.0</text>
<text x="1228.89" y="463.6" text-anchor="middle" letter-spacing="0.9">0.2</text>
<text x="1358.53" y="463.6" text-anchor="middle" letter-spacing="0.9">0.4</text>
<text x="1488.17" y="463.6" text-anchor="middle" letter-spacing="0.9">0.6</text>
<text x="1617.81" y="463.6" text-anchor="middle" letter-spacing="0.9">0.8</text>
<text x="1747.45" y="463.6" text-anchor="middle" letter-spacing="0.9">1.0</text>
</g>
<g stroke-width="3.1" fill="none">
<path stroke="#ff0000" d="M695.7,30.4 H742"/>
<path stroke="#0000ff" d="M695.7,82.9 H742"/>
<path stroke="#000000" d="M695.7,136 H742"/>
<path stroke="#ffff00" d="M695.7,188.8 H742"/>
<path stroke="#00ff00" d="M695.7,240.5 H742"/>
</g>
<g class="lg" font-size="31" fill="#0a0a0a"><text class="sym" transform="translate(757.9,40.7) scale(1.04,1)">ζ</text><text class="eq" transform="translate(775,42.1) scale(0.92,1.25)">=</text><text transform="translate(793.9,39.5) scale(0.93,1)">0.4</text></g>
<g class="lg" font-size="31" fill="#0a0a0a"><text class="sym" transform="translate(757.9,93.2) scale(1.04,1)">ζ</text><text class="eq" transform="translate(775,94.6) scale(0.92,1.25)">=</text><text transform="translate(793.9,92) scale(0.93,1)">0.5</text></g>
<g class="lg" font-size="31" fill="#0a0a0a"><text class="sym" transform="translate(757.9,146.3) scale(1.04,1)">ζ</text><text class="eq" transform="translate(775,147.7) scale(0.92,1.25)">=</text><text transform="translate(793.9,145.1) scale(0.93,1)">0.6</text></g>
<g class="lg" font-size="31" fill="#0a0a0a"><text class="sym" transform="translate(757.9,199.1) scale(1.04,1)">ζ</text><text class="eq" transform="translate(775,200.5) scale(0.92,1.25)">=</text><text transform="translate(793.9,197.9) scale(0.93,1)">0.7</text></g>
<g class="lg" font-size="31" fill="#0a0a0a"><text class="sym" transform="translate(757.9,250.8) scale(1.04,1)">ζ</text><text class="eq" transform="translate(775,252.2) scale(0.92,1.25)">=</text><text transform="translate(793.9,249.6) scale(0.93,1)">0.8</text></g>
<g stroke-width="3.1" fill="none">
<path stroke="#ff0000" d="M1344.5,51.5 H1391.4"/>
<path stroke="#0000ff" d="M1344.5,104 H1391.4"/>
<path stroke="#000000" d="M1344.5,156.9 H1391.4"/>
<path stroke="#ffff00" d="M1344.5,209.5 H1391.4"/>
<path stroke="#800080" d="M1344.5,261.9 H1391.4"/>
</g>
<g class="lg" font-size="31" fill="#0a0a0a"><text class="sym" transform="translate(1406.6,60.4) scale(1.04,1)">δ</text><text class="eq" transform="translate(1424.2,62.5) scale(0.92,1.25)">=</text><text transform="translate(1443,59.9) scale(0.93,1)">0.05</text></g>
<g class="lg" font-size="31" fill="#0a0a0a"><text class="sym" transform="translate(1406.6,112.9) scale(1.04,1)">δ</text><text class="eq" transform="translate(1424.2,115) scale(0.92,1.25)">=</text><text transform="translate(1443,112.4) scale(0.93,1)">0.10</text></g>
<g class="lg" font-size="31" fill="#0a0a0a"><text class="sym" transform="translate(1406.6,165.8) scale(1.04,1)">δ</text><text class="eq" transform="translate(1424.2,167.9) scale(0.92,1.25)">=</text><text transform="translate(1443,165.3) scale(0.93,1)">0.15</text></g>
<g class="lg" font-size="31" fill="#0a0a0a"><text class="sym" transform="translate(1406.6,218.4) scale(1.04,1)">δ</text><text class="eq" transform="translate(1424.2,220.5) scale(0.92,1.25)">=</text><text transform="translate(1443,217.9) scale(0.93,1)">0.20</text></g>
<g class="lg" font-size="31" fill="#0a0a0a"><text class="sym" transform="translate(1406.6,270.8) scale(1.04,1)">δ</text><text class="eq" transform="translate(1424.2,272.9) scale(0.92,1.25)">=</text><text transform="translate(1443,270.3) scale(0.93,1)">0.25</text></g>
<path d="M524.4,380 L607.63,110.62" stroke="#000" stroke-width="1.35" fill="none"/>
<path d="M614.8,87.4 L614.68,114.89 L607.63,110.62 L599.39,110.17 Z" fill="#000"/>
<path d="M1276.5,115.5 L1208.17,220.84" stroke="#000" stroke-width="1.35" fill="none"/>
<path d="M1196.2,239.3 L1203.81,215.63 L1208.17,220.84 L1214.71,222.7 Z" fill="#000"/>
<g class="al" font-size="33" fill="#111" transform="translate(0,0)">
<text transform="translate(32.7,225.6) rotate(-90) scale(0.98,1.03)" text-anchor="middle">dp</text>
<rect x="55.4" y="207.6" width="2.6" height="39.6" fill="#111"/>
<text transform="translate(104.7,225) rotate(-90) scale(0.93,1.0)" text-anchor="middle">dx</text>
</g>
<g class="al" font-size="33" fill="#111" transform="translate(907.2,-0.7)">
<text transform="translate(32.7,225.6) rotate(-90) scale(0.98,1.03)" text-anchor="middle">dp</text>
<rect x="55.4" y="207.6" width="2.6" height="39.6" fill="#111"/>
<text transform="translate(104.7,225) rotate(-90) scale(0.93,1.0)" text-anchor="middle">dx</text>
</g>
<text class="al" font-size="41" fill="#111" stroke="#111" stroke-width="0.5" text-anchor="middle" transform="translate(497.5,522.4) scale(0.84,1)">x</text>
<text class="al" font-size="45" fill="#000" stroke="#000" stroke-width="0.4" text-anchor="middle" transform="translate(1423,509.6) scale(0.9,1)">x</text>
</g>
<text class="cap" x="436.1" y="580.3" text-anchor="middle">(a)</text>
<text class="cap" x="1343" y="580.3" text-anchor="middle">(b)</text>
</svg>
</body></html>
